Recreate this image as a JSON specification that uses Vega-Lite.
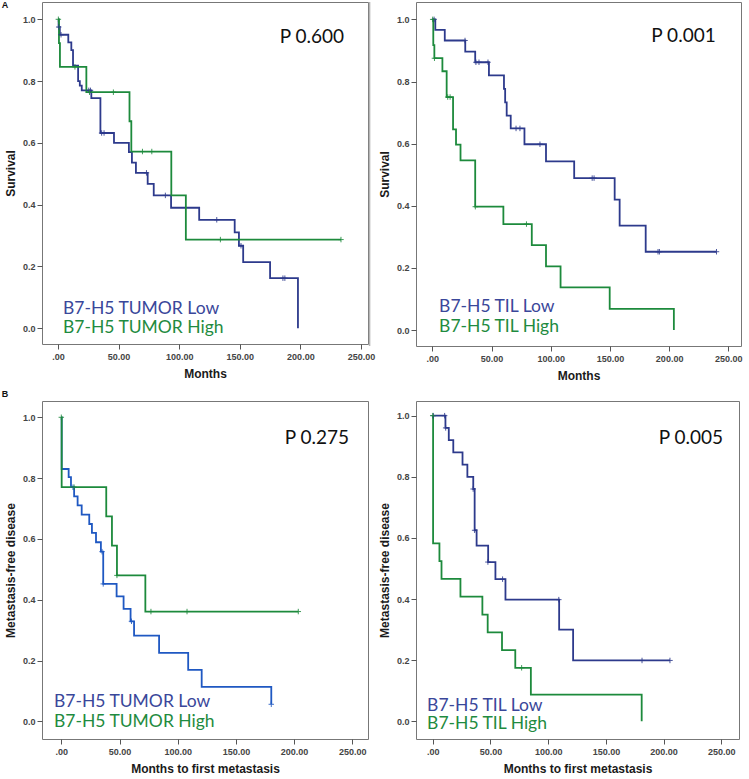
{
"$schema": "https://vega.github.io/schema/vega-lite/v6.json",
"padding": {"left": 1, "top": 0, "right": 0, "bottom": 0},
"background": "white",
"datasets": {
"km": [
{"p":"A1","g":"Low","t":0,"s":1},{"p":"A1","g":"Low","t":0.5,"s":0.975},{"p":"A1","g":"Low","t":1.5,"s":0.95},{"p":"A1","g":"Low","t":8.5,"s":0.925},{"p":"A1","g":"Low","t":11,"s":0.9},{"p":"A1","g":"Low","t":12.4,"s":0.85},{"p":"A1","g":"Low","t":16.6,"s":0.8},{"p":"A1","g":"Low","t":18,"s":0.785},{"p":"A1","g":"Low","t":19.6,"s":0.77},{"p":"A1","g":"Low","t":27.5,"s":0.745},{"p":"A1","g":"Low","t":35,"s":0.632},{"p":"A1","g":"Low","t":46.2,"s":0.6},{"p":"A1","g":"Low","t":58.5,"s":0.57},{"p":"A1","g":"Low","t":61,"s":0.536},{"p":"A1","g":"Low","t":64.3,"s":0.503},{"p":"A1","g":"Low","t":74,"s":0.467},{"p":"A1","g":"Low","t":79,"s":0.43},{"p":"A1","g":"Low","t":93.3,"s":0.39},{"p":"A1","g":"Low","t":116.5,"s":0.351},{"p":"A1","g":"Low","t":145.8,"s":0.31},{"p":"A1","g":"Low","t":149.3,"s":0.267},{"p":"A1","g":"Low","t":152.8,"s":0.214},{"p":"A1","g":"Low","t":175,"s":0.162},{"p":"A1","g":"Low","t":198,"s":0},
{"p":"A1","g":"High","t":0,"s":1},{"p":"A1","g":"High","t":0.8,"s":0.923},{"p":"A1","g":"High","t":1.6,"s":0.846},{"p":"A1","g":"High","t":23.4,"s":0.764},{"p":"A1","g":"High","t":59,"s":0.67},{"p":"A1","g":"High","t":60.5,"s":0.572},{"p":"A1","g":"High","t":93.5,"s":0.43},{"p":"A1","g":"High","t":105.5,"s":0.287},{"p":"A1","g":"High","t":233.5,"s":0.287},
{"p":"A2","g":"Low","t":0,"s":1},{"p":"A2","g":"Low","t":2.5,"s":0.966},{"p":"A2","g":"Low","t":10.5,"s":0.932},{"p":"A2","g":"Low","t":27.8,"s":0.896},{"p":"A2","g":"Low","t":36.2,"s":0.862},{"p":"A2","g":"Low","t":47.8,"s":0.82},{"p":"A2","g":"Low","t":60.5,"s":0.776},{"p":"A2","g":"Low","t":61.5,"s":0.733},{"p":"A2","g":"Low","t":62.8,"s":0.69},{"p":"A2","g":"Low","t":66.2,"s":0.649},{"p":"A2","g":"Low","t":77.8,"s":0.598},{"p":"A2","g":"Low","t":96,"s":0.543},{"p":"A2","g":"Low","t":119.8,"s":0.489},{"p":"A2","g":"Low","t":154,"s":0.42},{"p":"A2","g":"Low","t":158.2,"s":0.336},{"p":"A2","g":"Low","t":180.2,"s":0.252},{"p":"A2","g":"Low","t":240,"s":0.252},
{"p":"A2","g":"High","t":0,"s":1},{"p":"A2","g":"High","t":0.8,"s":0.917},{"p":"A2","g":"High","t":1.7,"s":0.875},{"p":"A2","g":"High","t":8.5,"s":0.833},{"p":"A2","g":"High","t":12.1,"s":0.75},{"p":"A2","g":"High","t":17.5,"s":0.646},{"p":"A2","g":"High","t":20,"s":0.597},{"p":"A2","g":"High","t":23.8,"s":0.546},{"p":"A2","g":"High","t":36.2,"s":0.397},{"p":"A2","g":"High","t":60,"s":0.341},{"p":"A2","g":"High","t":84,"s":0.273},{"p":"A2","g":"High","t":96,"s":0.205},{"p":"A2","g":"High","t":108.3,"s":0.137},{"p":"A2","g":"High","t":149.8,"s":0.068},{"p":"A2","g":"High","t":204,"s":0},
{"p":"B1","g":"Low","t":0,"s":1},{"p":"B1","g":"Low","t":0.3,"s":0.83},{"p":"B1","g":"Low","t":6.3,"s":0.803},{"p":"B1","g":"Low","t":8.3,"s":0.77},{"p":"B1","g":"Low","t":11,"s":0.74},{"p":"B1","g":"Low","t":14,"s":0.71},{"p":"B1","g":"Low","t":17.5,"s":0.68},{"p":"B1","g":"Low","t":24,"s":0.649},{"p":"B1","g":"Low","t":26.3,"s":0.62},{"p":"B1","g":"Low","t":29.8,"s":0.589},{"p":"B1","g":"Low","t":34,"s":0.558},{"p":"B1","g":"Low","t":36,"s":0.452},{"p":"B1","g":"Low","t":47.5,"s":0.411},{"p":"B1","g":"Low","t":53.5,"s":0.37},{"p":"B1","g":"Low","t":59.5,"s":0.329},{"p":"B1","g":"Low","t":62.5,"s":0.282},{"p":"B1","g":"Low","t":84,"s":0.225},{"p":"B1","g":"Low","t":109,"s":0.169},{"p":"B1","g":"Low","t":120.6,"s":0.113},{"p":"B1","g":"Low","t":180.4,"s":0.056},
{"p":"B1","g":"High","t":0,"s":1},{"p":"B1","g":"High","t":0.3,"s":0.77},{"p":"B1","g":"High","t":38.6,"s":0.674},{"p":"B1","g":"High","t":43.5,"s":0.578},{"p":"B1","g":"High","t":47.8,"s":0.48},{"p":"B1","g":"High","t":72.2,"s":0.361},{"p":"B1","g":"High","t":203.6,"s":0.361},
{"p":"B2","g":"Low","t":0,"s":1},{"p":"B2","g":"Low","t":11,"s":0.96},{"p":"B2","g":"Low","t":13.9,"s":0.92},{"p":"B2","g":"Low","t":17.8,"s":0.88},{"p":"B2","g":"Low","t":25.8,"s":0.84},{"p":"B2","g":"Low","t":30,"s":0.8},{"p":"B2","g":"Low","t":35.1,"s":0.76},{"p":"B2","g":"Low","t":36.3,"s":0.625},{"p":"B2","g":"Low","t":38,"s":0.575},{"p":"B2","g":"Low","t":48,"s":0.521},{"p":"B2","g":"Low","t":54.3,"s":0.465},{"p":"B2","g":"Low","t":63,"s":0.398},{"p":"B2","g":"Low","t":109.5,"s":0.3},{"p":"B2","g":"Low","t":121.6,"s":0.199},{"p":"B2","g":"Low","t":205.5,"s":0.199},
{"p":"B2","g":"High","t":0,"s":1},{"p":"B2","g":"High","t":0.3,"s":0.582},{"p":"B2","g":"High","t":5.8,"s":0.524},{"p":"B2","g":"High","t":7.6,"s":0.466},{"p":"B2","g":"High","t":24,"s":0.408},{"p":"B2","g":"High","t":43,"s":0.349},{"p":"B2","g":"High","t":47.6,"s":0.291},{"p":"B2","g":"High","t":60,"s":0.233},{"p":"B2","g":"High","t":71.5,"s":0.175},{"p":"B2","g":"High","t":85,"s":0.087},{"p":"B2","g":"High","t":181,"s":0}
],
"cens": [
{"p":"A1","g":"Low","t":0.6,"s":0.975},{"p":"A1","g":"Low","t":2.5,"s":0.95},{"p":"A1","g":"Low","t":25.4,"s":0.77},{"p":"A1","g":"Low","t":26.8,"s":0.77},{"p":"A1","g":"Low","t":36,"s":0.632},{"p":"A1","g":"Low","t":38,"s":0.632},{"p":"A1","g":"Low","t":73,"s":0.503},{"p":"A1","g":"Low","t":88.6,"s":0.43},{"p":"A1","g":"Low","t":131,"s":0.351},{"p":"A1","g":"Low","t":151,"s":0.267},{"p":"A1","g":"Low","t":185.6,"s":0.162},{"p":"A1","g":"Low","t":187.2,"s":0.162},
{"p":"A1","g":"High","t":0.3,"s":1},{"p":"A1","g":"High","t":14,"s":0.846},{"p":"A1","g":"High","t":26,"s":0.764},{"p":"A1","g":"High","t":45.7,"s":0.764},{"p":"A1","g":"High","t":69.7,"s":0.572},{"p":"A1","g":"High","t":77.4,"s":0.572},{"p":"A1","g":"High","t":134,"s":0.287},{"p":"A1","g":"High","t":233.5,"s":0.287},
{"p":"A2","g":"Low","t":1.5,"s":1},{"p":"A2","g":"Low","t":27.6,"s":0.932},{"p":"A2","g":"Low","t":36.8,"s":0.862},{"p":"A2","g":"Low","t":39.4,"s":0.862},{"p":"A2","g":"Low","t":47,"s":0.862},{"p":"A2","g":"Low","t":70.7,"s":0.649},{"p":"A2","g":"Low","t":74,"s":0.649},{"p":"A2","g":"Low","t":90.9,"s":0.598},{"p":"A2","g":"Low","t":135,"s":0.489},{"p":"A2","g":"Low","t":136.6,"s":0.489},{"p":"A2","g":"Low","t":190.6,"s":0.252},{"p":"A2","g":"Low","t":191.8,"s":0.252},{"p":"A2","g":"Low","t":240,"s":0.252},
{"p":"A2","g":"High","t":0.3,"s":1},{"p":"A2","g":"High","t":1.8,"s":0.875},{"p":"A2","g":"High","t":13,"s":0.75},{"p":"A2","g":"High","t":15,"s":0.75},{"p":"A2","g":"High","t":36.3,"s":0.397},{"p":"A2","g":"High","t":79.5,"s":0.341},
{"p":"B1","g":"Low","t":10,"s":0.77},{"p":"B1","g":"Low","t":35,"s":0.558},{"p":"B1","g":"Low","t":36,"s":0.452},{"p":"B1","g":"Low","t":60.3,"s":0.329},{"p":"B1","g":"Low","t":180.4,"s":0.056},
{"p":"B1","g":"High","t":0,"s":1},{"p":"B1","g":"High","t":11,"s":0.77},{"p":"B1","g":"High","t":47.8,"s":0.48},{"p":"B1","g":"High","t":77,"s":0.361},{"p":"B1","g":"High","t":108,"s":0.361},{"p":"B1","g":"High","t":203.6,"s":0.361},
{"p":"B2","g":"Low","t":0.5,"s":1},{"p":"B2","g":"Low","t":10.3,"s":1},{"p":"B2","g":"Low","t":11.2,"s":0.96},{"p":"B2","g":"Low","t":35,"s":0.76},{"p":"B2","g":"Low","t":36.3,"s":0.625},{"p":"B2","g":"Low","t":47.8,"s":0.521},{"p":"B2","g":"Low","t":60.5,"s":0.465},{"p":"B2","g":"Low","t":109.2,"s":0.398},{"p":"B2","g":"Low","t":181.3,"s":0.199},{"p":"B2","g":"Low","t":205.5,"s":0.199},
{"p":"B2","g":"High","t":0,"s":1},{"p":"B2","g":"High","t":77,"s":0.175}
]
},
"config": {
"view": {"stroke": "#777777", "strokeWidth": 1},
"axis": {"grid": false, "domain": false, "tickColor": "#555555", "tickSize": 5, "labelFont": "Liberation Sans", "labelFontSize": 9, "labelFontWeight": "bold", "labelColor": "#444444", "labelFlush": false, "titleFont": "Liberation Sans", "titleFontSize": 12, "titleFontWeight": "bold", "titleColor": "#1a1a1a"},
"axisX": {"labelPadding": 3, "titlePadding": 7},
"axisY": {"labelPadding": 2, "titlePadding": 5}
},
"columns": 2,
"spacing": {"row": 55, "column": 48},
"bounds": "flush",
"resolve": {"scale": {"x": "independent", "y": "independent", "color": "independent"}},
"concat": [
{"width": 326, "height": 342,
 "layer": [
  {"data": {"name": "km"}, "transform": [{"filter": "datum.p == 'A1'"}], "mark": {"type": "line", "interpolate": "step-after", "strokeWidth": 1.8},
   "encoding": {
    "x": {"field": "t", "type": "quantitative", "title": "Months", "scale": {"domain": [-13.2, 255.8], "nice": false, "zero": false}, "axis": {"values": [0, 50, 100, 150, 200, 250], "labelExpr": "datum.value == 0 ? '.00' : format(datum.value, '.2f')"}},
    "y": {"field": "s", "type": "quantitative", "title": "Survival", "scale": {"domain": [-0.051, 1.056], "nice": false, "zero": false}, "axis": {"values": [0, 0.2, 0.4, 0.6, 0.8, 1], "format": ".1f"}},
    "color": {"field": "g", "type": "nominal", "scale": {"domain": ["Low", "High"], "range": ["#2d3a8c", "#1d8a3c"]}, "legend": null}}},
  {"data": {"name": "cens"}, "transform": [{"filter": "datum.p == 'A1'"}], "mark": {"type": "point", "shape": "M-1,0H1M0,-1V1", "size": 30, "strokeWidth": 1, "opacity": 0.85},
   "encoding": {"x": {"field": "t", "type": "quantitative", "title": "Months"}, "y": {"field": "s", "type": "quantitative", "title": "Survival"}, "color": {"field": "g", "type": "nominal", "legend": null}}},
  {"data": {"values": [{"label": "P 0.600"}]}, "mark": {"type": "text", "align": "left", "baseline": "alphabetic", "font": "Lato", "fontSize": 19}, "encoding": {"x": {"datum": 183}, "y": {"datum": 0.922}, "text": {"field": "label"}, "color": {"value": "#111111"}}},
  {"data": {"values": [{"label": "B7-H5 TUMOR Low"}]}, "mark": {"type": "text", "align": "left", "baseline": "alphabetic", "font": "Lato", "fontSize": 17.5}, "encoding": {"x": {"datum": 4.1}, "y": {"datum": 0.046}, "text": {"field": "label"}, "color": {"value": "#3a479a"}}},
  {"data": {"values": [{"label": "B7-H5 TUMOR High"}]}, "mark": {"type": "text", "align": "left", "baseline": "alphabetic", "font": "Lato", "fontSize": 17.5}, "encoding": {"x": {"datum": 4.1}, "y": {"datum": -0.015}, "text": {"field": "label"}, "color": {"value": "#1f8b40"}}},
  {"data": {"values": [{"label": "A"}]}, "mark": {"type": "text", "align": "center", "baseline": "middle", "font": "Liberation Sans", "fontWeight": "bold", "fontSize": 9}, "encoding": {"x": {"datum": -43.7}, "y": {"datum": 1.046}, "text": {"field": "label"}, "color": {"value": "#111111"}}}
 ]},
{"width": 325, "height": 344,
 "layer": [
  {"data": {"name": "km"}, "transform": [{"filter": "datum.p == 'A2'"}], "mark": {"type": "line", "interpolate": "step-after", "strokeWidth": 1.8},
   "encoding": {
    "x": {"field": "t", "type": "quantitative", "title": "Months", "scale": {"domain": [-13.8, 260.7], "nice": false, "zero": false}, "axis": {"values": [0, 50, 100, 150, 200, 250], "labelExpr": "datum.value == 0 ? '.00' : format(datum.value, '.2f')"}},
    "y": {"field": "s", "type": "quantitative", "title": "Survival", "scale": {"domain": [-0.0515, 1.056], "nice": false, "zero": false}, "axis": {"values": [0, 0.2, 0.4, 0.6, 0.8, 1], "format": ".1f"}},
    "color": {"field": "g", "type": "nominal", "scale": {"domain": ["Low", "High"], "range": ["#2d3a8c", "#1d8a3c"]}, "legend": null}}},
  {"data": {"name": "cens"}, "transform": [{"filter": "datum.p == 'A2'"}], "mark": {"type": "point", "shape": "M-1,0H1M0,-1V1", "size": 30, "strokeWidth": 1, "opacity": 0.85},
   "encoding": {"x": {"field": "t", "type": "quantitative", "title": "Months"}, "y": {"field": "s", "type": "quantitative", "title": "Survival"}, "color": {"field": "g", "type": "nominal", "legend": null}}},
  {"data": {"values": [{"label": "edge"}]}, "mark": {"type": "rule", "strokeWidth": 1.5}, "encoding": {"x": {"datum": -53}, "y": {"datum": 1.056}, "y2": {"datum": -0.0515}, "color": {"value": "#b5b5b5"}}},
  {"data": {"values": [{"label": "P 0.001"}]}, "mark": {"type": "text", "align": "left", "baseline": "alphabetic", "font": "Lato", "fontSize": 19}, "encoding": {"x": {"datum": 185}, "y": {"datum": 0.926}, "text": {"field": "label"}, "color": {"value": "#111111"}}},
  {"data": {"values": [{"label": "B7-H5 TIL Low"}]}, "mark": {"type": "text", "align": "left", "baseline": "alphabetic", "font": "Lato", "fontSize": 17.5}, "encoding": {"x": {"datum": 5.7}, "y": {"datum": 0.058}, "text": {"field": "label"}, "color": {"value": "#3a479a"}}},
  {"data": {"values": [{"label": "B7-H5 TIL High"}]}, "mark": {"type": "text", "align": "left", "baseline": "alphabetic", "font": "Lato", "fontSize": 17.5}, "encoding": {"x": {"datum": 5.7}, "y": {"datum": -0.006}, "text": {"field": "label"}, "color": {"value": "#1f8b40"}}}
 ]},
{"width": 326, "height": 338,
 "layer": [
  {"data": {"name": "km"}, "transform": [{"filter": "datum.p == 'B1'"}], "mark": {"type": "line", "interpolate": "step-after", "strokeWidth": 1.8},
   "encoding": {
    "x": {"field": "t", "type": "quantitative", "title": "Months to first metastasis", "scale": {"domain": [-16.6, 263.5], "nice": false, "zero": false}, "axis": {"values": [0, 50, 100, 150, 200, 250], "labelExpr": "datum.value == 0 ? '.00' : format(datum.value, '.2f')"}},
    "y": {"field": "s", "type": "quantitative", "title": "Metastasis-free disease", "scale": {"domain": [-0.0582, 1.0536], "nice": false, "zero": false}, "axis": {"values": [0, 0.2, 0.4, 0.6, 0.8, 1], "format": ".1f"}},
    "color": {"field": "g", "type": "nominal", "scale": {"domain": ["Low", "High"], "range": ["#1f58c2", "#1d8a3c"]}, "legend": null}}},
  {"data": {"name": "cens"}, "transform": [{"filter": "datum.p == 'B1'"}], "mark": {"type": "point", "shape": "M-1,0H1M0,-1V1", "size": 30, "strokeWidth": 1, "opacity": 0.85},
   "encoding": {"x": {"field": "t", "type": "quantitative", "title": "Months to first metastasis"}, "y": {"field": "s", "type": "quantitative", "title": "Metastasis-free disease"}, "color": {"field": "g", "type": "nominal", "legend": null}}},
  {"data": {"values": [{"label": "P 0.275"}]}, "mark": {"type": "text", "align": "left", "baseline": "alphabetic", "font": "Lato", "fontSize": 19}, "encoding": {"x": {"datum": 192}, "y": {"datum": 0.912}, "text": {"field": "label"}, "color": {"value": "#111111"}}},
  {"data": {"values": [{"label": "B7-H5 TUMOR Low"}]}, "mark": {"type": "text", "align": "left", "baseline": "alphabetic", "font": "Lato", "fontSize": 17.5}, "encoding": {"x": {"datum": -6.3}, "y": {"datum": 0.046}, "text": {"field": "label"}, "color": {"value": "#3a479a"}}},
  {"data": {"values": [{"label": "B7-H5 TUMOR High"}]}, "mark": {"type": "text", "align": "left", "baseline": "alphabetic", "font": "Lato", "fontSize": 17.5}, "encoding": {"x": {"datum": -6.3}, "y": {"datum": -0.02}, "text": {"field": "label"}, "color": {"value": "#1f8b40"}}},
  {"data": {"values": [{"label": "B"}]}, "mark": {"type": "text", "align": "center", "baseline": "middle", "font": "Liberation Sans", "fontWeight": "bold", "fontSize": 9}, "encoding": {"x": {"datum": -48.4}, "y": {"datum": 1.077}, "text": {"field": "label"}, "color": {"value": "#111111"}}}
 ]},
{"width": 323, "height": 338,
 "layer": [
  {"data": {"name": "km"}, "transform": [{"filter": "datum.p == 'B2'"}], "mark": {"type": "line", "interpolate": "step-after", "strokeWidth": 1.8},
   "encoding": {
    "x": {"field": "t", "type": "quantitative", "title": "Months to first metastasis", "scale": {"domain": [-14.5, 265.3], "nice": false, "zero": false}, "axis": {"values": [0, 50, 100, 150, 200, 250], "labelExpr": "datum.value == 0 ? '.00' : format(datum.value, '.2f')"}},
    "y": {"field": "s", "type": "quantitative", "title": "Metastasis-free disease", "scale": {"domain": [-0.058, 1.048], "nice": false, "zero": false}, "axis": {"values": [0, 0.2, 0.4, 0.6, 0.8, 1], "format": ".1f"}},
    "color": {"field": "g", "type": "nominal", "scale": {"domain": ["Low", "High"], "range": ["#2d3a8c", "#1d8a3c"]}, "legend": null}}},
  {"data": {"name": "cens"}, "transform": [{"filter": "datum.p == 'B2'"}], "mark": {"type": "point", "shape": "M-1,0H1M0,-1V1", "size": 30, "strokeWidth": 1, "opacity": 0.85},
   "encoding": {"x": {"field": "t", "type": "quantitative", "title": "Months to first metastasis"}, "y": {"field": "s", "type": "quantitative", "title": "Metastasis-free disease"}, "color": {"field": "g", "type": "nominal", "legend": null}}},
  {"data": {"values": [{"label": "P 0.005"}]}, "mark": {"type": "text", "align": "left", "baseline": "alphabetic", "font": "Lato", "fontSize": 19}, "encoding": {"x": {"datum": 195.7}, "y": {"datum": 0.907}, "text": {"field": "label"}, "color": {"value": "#111111"}}},
  {"data": {"values": [{"label": "B7-H5 TIL Low"}]}, "mark": {"type": "text", "align": "left", "baseline": "alphabetic", "font": "Lato", "fontSize": 17.5}, "encoding": {"x": {"datum": -4.9}, "y": {"datum": 0.035}, "text": {"field": "label"}, "color": {"value": "#3a479a"}}},
  {"data": {"values": [{"label": "B7-H5 TIL High"}]}, "mark": {"type": "text", "align": "left", "baseline": "alphabetic", "font": "Lato", "fontSize": 17.5}, "encoding": {"x": {"datum": -4.9}, "y": {"datum": -0.025}, "text": {"field": "label"}, "color": {"value": "#1f8b40"}}}
 ]}
]
}
